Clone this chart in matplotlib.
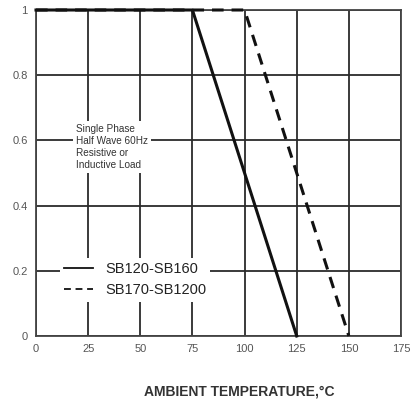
import matplotlib
matplotlib.use("Agg")
import matplotlib.pyplot as plt

plt.rcParams["font.family"] = ["Liberation Sans", "DejaVu Sans"]

# derating curves (temperature in degC, relative forward current)
temp_a = [0, 75, 125]
curr_a = [1, 1, 0]
temp_b = [0, 100, 150]
curr_b = [1, 1, 0]
labels = ["SB120-SB160", "SB170-SB1200"]

x_ticks = [0, 25, 50, 75, 100, 125, 150, 175]
y_ticks = [0, 0.2, 0.4, 0.6, 0.8, 1]
y_tick_labels = ["0", "0.2", "0.4", "0.6", "0.8", "1"]

note = "Single Phase\nHalf Wave 60Hz\nResistive or\nInductive Load"

fig = plt.figure(figsize=(4.11, 4.09), dpi=100)
ax = fig.add_axes([36 / 411, 1 - 336 / 409, 365 / 411, 326 / 409])

ax.set_xlim(0, 175)
ax.set_ylim(0, 1)
ax.set_xticks(x_ticks)
ax.set_yticks(y_ticks)
ax.set_yticklabels(y_tick_labels)
ax.grid(True, color="#2b2b2b", linewidth=1.3)
ax.set_axisbelow(True)
ax.tick_params(length=0, labelsize=8, labelcolor="#555555", pad=6)
for s in ax.spines.values():
    s.set_color("#444444")
    s.set_linewidth(1.3)

ax.plot(temp_a, curr_a, color="#111111", linewidth=2.2, label=labels[0],
        zorder=3, clip_on=False)
ax.plot(temp_b, curr_b, color="#111111", linewidth=2.2, linestyle=(0, (3.8, 2.6)),
        label=labels[1], zorder=3, clip_on=False)

ax.text(19.0, 0.65, note, fontsize=7.2, color="#333333", ha="left", va="top",
        linespacing=1.25,
        bbox=dict(boxstyle="square,pad=0.3", fc="white", ec="none"), zorder=4)

leg = ax.legend(loc="upper left", bbox_to_anchor=(0.065, 0.24), borderaxespad=0,
                fontsize=10.5, handlelength=2.0, handletextpad=0.8,
                labelspacing=0.5, borderpad=0.3, fancybox=False,
                framealpha=1, facecolor="white", edgecolor="none")
for h in leg.get_lines():
    h.set_linewidth(1.3)
for t in leg.get_texts():
    t.set_color("#222222")

fig.text(239 / 411, 1 - 392 / 409, "AMBIENT TEMPERATURE,°C", ha="center",
         va="center", fontsize=10, fontweight="bold", color="#333333")

fig.savefig("out.png", dpi=100)
